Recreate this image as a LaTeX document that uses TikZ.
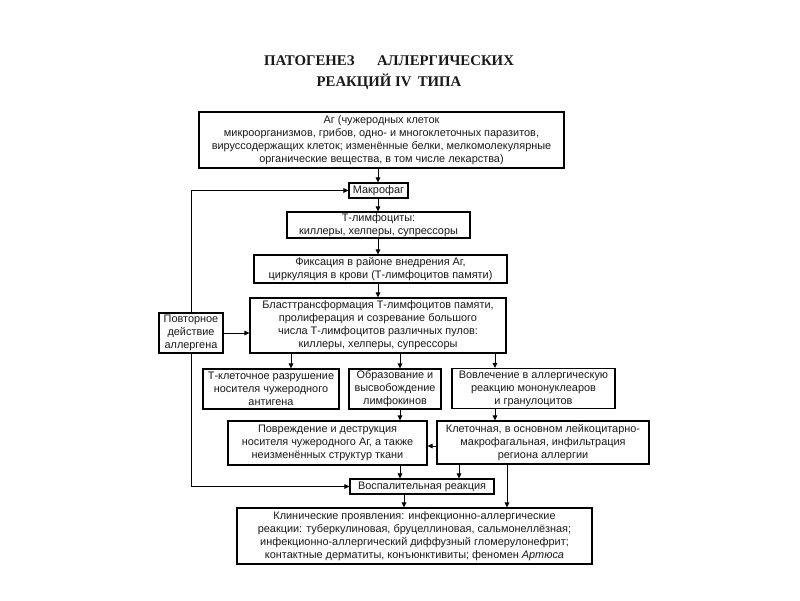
\documentclass[tikz,border=0pt]{standalone}
\usepackage{fontspec}
\setmainfont{Liberation Sans}
\newfontfamily\titlefont{Liberation Serif}
\usetikzlibrary{arrows.meta}
\begin{document}
\begin{tikzpicture}[x=1pt,y=-1pt,
  box/.style={draw=black, line width=1.1pt, inner sep=0pt, align=center,
    font=\fontsize{10.9pt}{13pt}\selectfont, text=black!90},
  arr/.style={line width=1pt, -{Triangle[length=5pt,width=4.5pt]}},
  ln/.style={line width=1pt}]
\useasboundingbox[fill=white] (0,0) rectangle (800,600);
\node[font=\titlefont\bfseries\fontsize{14.8pt}{21pt}\selectfont, align=center, text=black!90] (title) at (389,72.5)
  {ПАТОГЕНЕЗ\quad\enspace АЛЛЕРГИЧЕСКИХ\\ РЕАКЦИЙ IV\, ТИПА};
\node[box, minimum width=365pt, minimum height=56pt] (ag) at (381.5,140)
  {Аг (чужеродных клеток\\ микроорганизмов, грибов, одно- и многоклеточных паразитов,\\ вируссодержащих клеток; изменённые белки, мелкомолекулярные\\ органические вещества, в том числе лекарства)};
\node[box, minimum width=59pt, minimum height=15pt] (mac) at (378.5,190.5) {Макрофаг};
\node[box, minimum width=183pt, minimum height=26pt] (tl) at (378.5,225) {Т-лимфоциты:\\ киллеры, хелперы, супрессоры};
\node[box, minimum width=253pt, minimum height=28pt] (fix) at (380.5,269) {Фиксация в районе внедрения Аг,\\ циркуляция в крови (Т-лимфоцитов памяти)};
\node[box, minimum width=256pt, minimum height=55pt] (bl) at (378,325.5) {Бласттрансформация Т-лимфоцитов памяти,\\ пролиферация и созревание большого\\ числа Т-лимфоцитов различных пулов:\\ киллеры, хелперы, супрессоры};
\node[box, minimum width=64pt, minimum height=40pt] (pov) at (191,333) {Повторное\\ действие\\ аллергена};
\node[box, minimum width=136pt, minimum height=40pt] (tk) at (271,389) {Т-клеточное разрушение\\ носителя чужеродного\\ антигена};
\node[box, minimum width=92pt, minimum height=40pt] (obr) at (395,389) {Образование и\\ высвобождение\\ лимфокинов};
\node[box, minimum width=163pt, minimum height=40pt] (vov) at (533.5,388.5) {Вовлечение в аллергическую\\ реакцию мононуклеаров\\ и гранулоцитов};
\node[box, minimum width=199pt, minimum height=44pt] (povr) at (327.5,443) {Повреждение и деструкция\\ носителя чужеродного Аг, а также\\ неизменённых структур ткани};
\node[box, minimum width=212pt, minimum height=43pt] (kl) at (543,442.5) {Клеточная, в основном лейкоцитарно-\\ макрофагальная, инфильтрация\\ региона аллергии};
\node[box, minimum width=144pt, minimum height=15pt] (vosp) at (422,486.5) {Воспалительная реакция};
\node[box, minimum width=355pt, minimum height=56pt] (cl) at (414.5,536) {Клинические проявления: инфекционно-аллергические\\ реакции: туберкулиновая, бруцеллиновая, сальмонеллёзная;\\ инфекционно-аллергический диффузный гломерулонефрит;\\ контактные дерматиты, конъюнктивиты; феномен \textit{Артюса}};
% x positions of connectors
\coordinate (xa) at (378,0);
\coordinate (xb) at (291,0);
\coordinate (xc) at (400,0);
\coordinate (xd) at (495,0);
\coordinate (xe) at (459,0);
\coordinate (xf) at (507,0);
\coordinate (xg) at (404,0);
\coordinate (yh) at (0,446);
\draw[arr] (ag.south -| xa) -- (mac.north -| xa);
\draw[arr] (mac.south -| xa) -- (tl.north -| xa);
\draw[arr] (tl.south -| xa) -- (fix.north -| xa);
\draw[arr] (fix.south -| xa) -- (bl.north -| xa);
\draw[arr] (bl.south -| xb) -- (tk.north -| xb);
\draw[arr] (bl.south -| xc) -- (obr.north -| xc);
\draw[arr] (bl.south -| xd) -- (vov.north -| xd);
\draw[arr] (obr.south -| xc) -- (povr.north -| xc);
\draw[arr] (vov.south -| xd) -- (kl.north -| xd);
\draw[arr] (kl.west |- yh) -- (povr.east |- yh);
\draw[arr] (povr.south -| xc) -- (vosp.north -| xc);
\draw[arr] (kl.south -| xe) -- (vosp.north -| xe);
\draw[arr] (kl.south -| xf) -- (cl.north -| xf);
\draw[arr] (vosp.south -| xg) -- (cl.north -| xg);
\draw[arr] (pov.east) -- (bl.west |- pov.east);
\draw[arr] (pov.north) |- (mac.west);
\draw[arr] (pov.south) |- (vosp.west);
\end{tikzpicture}
\end{document}
